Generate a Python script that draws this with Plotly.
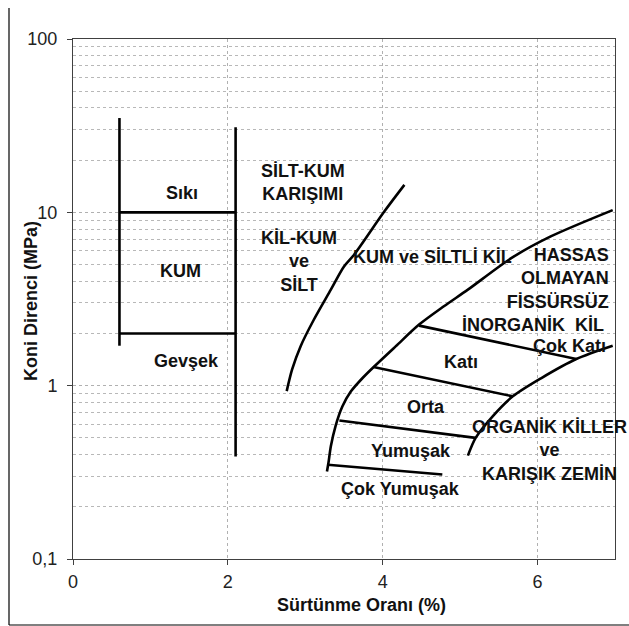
import numpy as np
import plotly.graph_objects as go

# ---------------- data ----------------
kum_left_x = [0.6, 0.6]
kum_left_y = [35, 1.7]
kum_right_x = [2.1, 2.1]
kum_right_y = [31, 0.39]
siki_x = [0.6, 2.1]
siki_y = [10, 10]
gevsek_x = [0.6, 2.1]
gevsek_y = [2, 2]

silt_x = [2.76, 2.83, 2.94, 3.11, 3.33, 3.50, 3.63, 4.02, 4.28]
silt_y = [0.93, 1.24, 1.69, 2.40, 3.58, 4.87, 5.69, 10.1, 14.4]

clay_upper_x = [3.28, 3.30, 3.33, 3.39, 3.48, 3.59, 3.74, 3.89, 4.17, 4.47, 4.79, 5.10, 5.66, 6.17, 6.97]
clay_upper_y = [0.32, 0.36, 0.447, 0.583, 0.76, 0.927, 1.107, 1.29, 1.69, 2.25, 2.87, 3.58, 5.44, 7.26, 10.3]

organic_x = [5.10, 5.20, 5.42, 5.68, 6.05, 6.50, 6.97]
organic_y = [0.395, 0.50, 0.666, 0.868, 1.107, 1.425, 1.70]

cok_kati_x = [4.47, 6.50]
cok_kati_y = [2.22, 1.425]
kati_x = [3.88, 5.68]
kati_y = [1.28, 0.868]
orta_x = [3.44, 5.20]
orta_y = [0.63, 0.50]
yumusak_x = [3.29, 4.77]
yumusak_y = [0.35, 0.307]

label_text = ["Sıkı", "KUM", "Gevşek", "SİLT-KUM<br>KARIŞIMI", "KİL-KUM<br>ve<br>SİLT",
              "KUM ve SİLTLİ KİL", "HASSAS<br>OLMAYAN<br>FİSSÜRSÜZ<br>İNORGANİK  KİL ",
              "Çok Katı", "Katı", "Orta", "Yumuşak", "Çok Yumuşak",
              "ORGANİK KİLLER<br>ve<br>KARIŞIK ZEMİN"]
label_x = [1.41, 1.39, 1.47, 2.97, 2.92, 4.64, 6.95, 6.41, 5.01, 4.56, 4.36, 4.23, 6.16]
label_y = [13.0, 4.56, 1.38, 14.9, 5.18, 5.56, 3.58, 1.69, 1.37, 0.754, 0.418, 0.252, 0.422]
label_anchor = ["center"] * 6 + ["right"] + ["center"] * 6

y_tickvals = [0.1, 1, 10, 100]
y_ticktext = ["0,1", "1", "10", "100"]
x_tickvals = [0, 2, 4, 6]
x_title = "Sürtünme Oranı (%)"
y_title = "Koni Direnci (MPa)"

# ---------------- figure ----------------
FONT = "Liberation Sans, Arial, sans-serif"
fig = go.Figure()

straight = [(kum_left_x, kum_left_y), (kum_right_x, kum_right_y), (siki_x, siki_y),
            (gevsek_x, gevsek_y), (cok_kati_x, cok_kati_y), (kati_x, kati_y),
            (orta_x, orta_y), (yumusak_x, yumusak_y)]
for xs, ys in straight:
    fig.add_trace(go.Scatter(x=xs, y=ys, mode="lines",
                             line=dict(color="black", width=2.6), showlegend=False,
                             hoverinfo="skip"))
for xs, ys in [(silt_x, silt_y), (clay_upper_x, clay_upper_y), (organic_x, organic_y)]:
    fig.add_trace(go.Scatter(x=xs, y=ys, mode="lines",
                             line=dict(color="black", width=2.6, shape="spline", smoothing=0.8),
                             showlegend=False, hoverinfo="skip"))

annotations = []
for t, x, y, a in zip(label_text, label_x, label_y, label_anchor):
    annotations.append(dict(x=x, y=np.log10(y), xref="x", yref="y", text="<b>%s</b>" % t,
                            showarrow=False, xanchor=a, yanchor="middle", align=a,
                            font=dict(family=FONT, size=18, color="#111")))

W, H = 629, 626
ML, MR, MT, MB = 73, 14, 39, 67
pw, ph = W - ML - MR, H - MT - MB
def px(xp):
    return (xp - ML) / pw
def py(yp):
    return (H - MB - yp) / ph

annotations.append(dict(x=px(361.5), y=py(605), xref="paper", yref="paper",
                        text="<b>%s</b>" % x_title, showarrow=False,
                        xanchor="center", yanchor="middle",
                        font=dict(family=FONT, size=18, color="#111")))
annotations.append(dict(x=px(31), y=py(301), xref="paper", yref="paper",
                        text="<b>%s</b>" % y_title, showarrow=False, textangle=-90,
                        xanchor="center", yanchor="middle",
                        font=dict(family=FONT, size=18, color="#111")))

minor_vals = [m * 10.0 ** d for d in (-1, 0, 1) for m in range(2, 10)]

fig.update_layout(
    width=W, height=H, margin=dict(l=ML, r=MR, t=MT, b=MB),
    paper_bgcolor="white", plot_bgcolor="white",
    annotations=annotations,
    shapes=[
        dict(type="line", xref="paper", yref="paper", x0=px(9), x1=px(9), y0=py(8), y1=py(625),
             line=dict(color="black", width=1.2)),
        dict(type="line", xref="paper", yref="paper", x0=px(9), x1=px(629), y0=py(625), y1=py(625),
             line=dict(color="black", width=1.2)),
    ],
    xaxis=dict(range=[0, 7], tickvals=x_tickvals, showgrid=True, gridcolor="#b0b0b0",
               griddash="dot", gridwidth=1, showline=True, linecolor="#404040", linewidth=1,
               mirror=True, ticks="outside", ticklen=5, tickcolor="#404040", zeroline=False,
               ticklabelstandoff=1,
               tickfont=dict(family=FONT, size=18, color="#222")),
    yaxis=dict(type="log", range=[-1, 2], tickvals=y_tickvals, ticktext=y_ticktext,
               showgrid=True, gridcolor="#b0b0b0", griddash="dot", gridwidth=1,
               showline=True, linecolor="#404040", linewidth=1, mirror=True,
               ticks="outside", ticklen=5, tickcolor="#404040", zeroline=False,
               ticklabelstandoff=6,
               tickfont=dict(family=FONT, size=18, color="#222"),
               minor=dict(tickvals=minor_vals, showgrid=True, gridcolor="#b8b8b8",
                          griddash="dot", gridwidth=1, ticks="")),
)

fig.write_html("out.html")
